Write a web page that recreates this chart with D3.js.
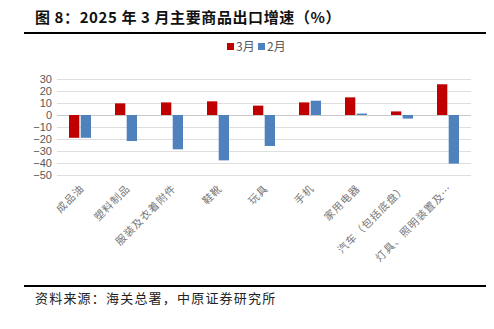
<!DOCTYPE html>
<html><head><meta charset="utf-8">
<script src="https://cdn.jsdelivr.net/npm/d3@7"></script>
<style>body{margin:0;background:#fff;}svg{display:block;}</style>
</head><body>
<script>
const categories = ["成品油","塑料制品","服装及衣着附件","鞋靴","玩具","手机","家用电器","汽车（包括底盘）","灯具、照明装置及…"];
const seriesNames = ["3月","2月"];
const mar = [-19, 9.7, 10.5, 11.4, 7.8, 10.5, 14.7, 3, 25.6];
const feb = [-19, -21.7, -28.6, -37.8, -25.8, 11.9, 1.2, -3, -40.5];
const yTicks = [30,20,10,0,-10,-20,-30,-40,-50];
const colors = ["#C00000","#4F81BD"];
const title = "图 8：2025 年 3 月主要商品出口增速（%）";
const source = "资料来源：海关总署，中原证券研究所";

const W=494,H=329;
const svg=d3.select("body").append("svg").attr("width",W).attr("height",H);
const cjk="'Noto Sans CJK SC','Noto Sans',sans-serif";

svg.append("text").attr("x",35).attr("y",23).attr("font-family",cjk).attr("font-weight","bold")
  .attr("font-size",15).attr("letter-spacing",0.6).attr("fill","#111").text(title);
svg.append("line").attr("x1",24).attr("x2",486).attr("y1",33).attr("y2",33).attr("stroke","#000").attr("stroke-width",2.2);
svg.append("line").attr("x1",24).attr("x2",486).attr("y1",286).attr("y2",286).attr("stroke","#000").attr("stroke-width",2.2);
svg.append("text").attr("x",35).attr("y",303).attr("font-family",cjk).attr("font-size",13)
  .attr("letter-spacing",1.2).attr("fill","#222").text(source);

const y=d3.scaleLinear().domain([-50,30]).range([175,79]);
const x0=d3.scaleBand().domain(categories).range([57,471]);
const x1=d3.scaleBand().domain(seriesNames).range([-11,11]).paddingInner(0.12);

// grid
svg.append("g").selectAll("line").data(yTicks).join("line")
  .attr("x1",57).attr("x2",471).attr("y1",d=>y(d)+0.5).attr("y2",d=>y(d)+0.5)
  .attr("stroke",d=>d===0?"#c8c8c8":"#dedede").attr("stroke-width",1);

// y axis
const yAxis=d3.axisLeft(y).tickValues(yTicks).tickSize(0).tickPadding(0);
const ga=svg.append("g").attr("transform","translate(52,0)").call(yAxis);
ga.select(".domain").remove();
ga.selectAll("text").attr("font-family","'Liberation Sans',Arial,sans-serif").attr("font-size",11).attr("fill","#595959");

// bars
const data=[mar,feb];
data.forEach((vals,si)=>{
  svg.append("g").selectAll("rect").data(vals).join("rect")
    .attr("x",(d,i)=>x0(categories[i])+x0.bandwidth()/2+x1(seriesNames[si]))
    .attr("width",x1.bandwidth())
    .attr("y",d=>y(Math.max(0,d)))
    .attr("height",d=>Math.abs(y(d)-y(0)))
    .attr("fill",colors[si]);
});

// x labels
svg.append("g").selectAll("text").data(categories).join("text")
  .attr("transform",d=>`translate(${x0(d)+x0.bandwidth()/2+5},${189}) rotate(-45)`)
  .attr("text-anchor","end").attr("font-family",cjk).attr("font-size",10.5)
  .attr("letter-spacing",1).attr("fill","#777").text(d=>d);

// legend
const lg=svg.append("g");
const lx=[228,259];
seriesNames.forEach((s,i)=>{
  lg.append("rect").attr("x",lx[i]-1).attr("y",43).attr("width",7).attr("height",7).attr("fill",colors[i]);
  lg.append("text").attr("x",lx[i]+8).attr("y",51).attr("font-family",cjk).attr("font-size",12)
    .attr("fill","#595959").text(s);
});
</script>
</body></html>
